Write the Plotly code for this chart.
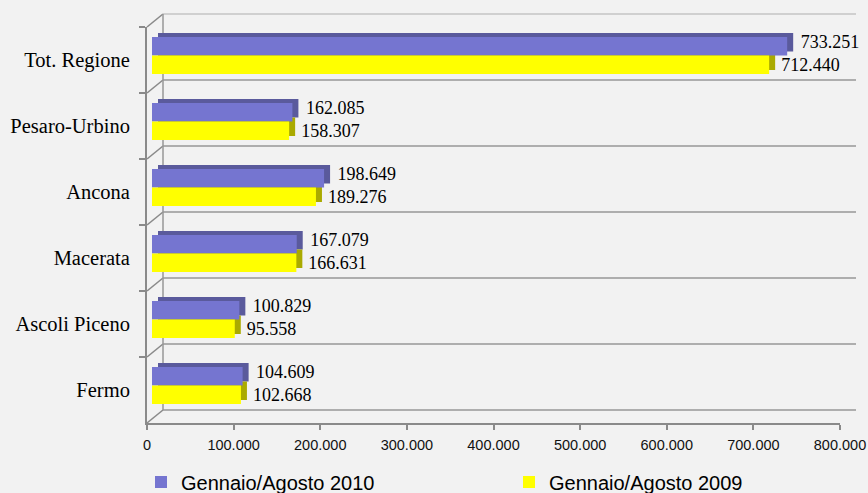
import plotly.graph_objects as go

# ---- data ----
categories = ["Tot. Regione", "Pesaro-Urbino", "Ancona", "Macerata", "Ascoli Piceno", "Fermo"]
values_2010 = [733251, 162085, 198649, 167079, 100829, 104609]
values_2009 = [712440, 158307, 189276, 166631, 95558, 102668]
series_names = ["Gennaio/Agosto 2010", "Gennaio/Agosto 2009"]
x_tickvals = [0, 100000, 200000, 300000, 400000, 500000, 600000, 700000, 800000]

# ---- geometry (pixels) ----
W, H = 868, 493
L, R, T, B = 147, 12, 14, 70
PW = W - L - R
PH = H - T - B
AX_W, AX_H = 693, 396
DEPTH_X, DEPTH_Y = 16, 13   # offset of back wall


def dom_x(dx):
    return [dx / PW, (dx + AX_W) / PW]


def dom_y(dy):
    return [dy / PH, (dy + AX_H) / PH]


PURPLE = "#7575d0"
PURPLE_DARK = "#5a5a9c"
YELLOW = "#ffff00"
YELLOW_DARK = "#aaaa00"
BG = "#f2f2f2"
AXIS_GRAY = "#8a8a8a"
WALL_GRAY = "#979797"

band = AX_H / len(categories)
bar_w = 18.5 / band
off_2010 = -23 / band
off_2009 = -4.5 / band

fig = go.Figure()

# front axes helper (invisible trace to build the category axis)
fig.add_trace(go.Bar(x=values_2010, y=categories, orientation="h", xaxis="x", yaxis="y",
                     marker_color="rgba(0,0,0,0)", showlegend=False, hoverinfo="skip"))

# 3D depth (shadow) bars
fig.add_trace(go.Bar(x=values_2010, y=categories, orientation="h", xaxis="x2", yaxis="y2",
                     marker=dict(color=PURPLE_DARK, line=dict(width=0)),
                     offset=off_2010, width=bar_w,
                     texttemplate=" %{x:,d}", textposition="outside", cliponaxis=False,
                     constraintext="none",
                     textfont=dict(family="Liberation Serif", size=18, color="black"),
                     showlegend=False, hoverinfo="skip"))
fig.add_trace(go.Bar(x=values_2009, y=categories, orientation="h", xaxis="x2", yaxis="y2",
                     marker=dict(color=YELLOW_DARK, line=dict(width=0)),
                     offset=off_2009, width=bar_w,
                     showlegend=False, hoverinfo="skip"))

# front bars
fig.add_trace(go.Bar(x=values_2010, y=categories, orientation="h", xaxis="x3", yaxis="y3",
                     name=series_names[0],
                     marker=dict(color=PURPLE, line=dict(width=0)),
                     offset=off_2010, width=bar_w))
fig.add_trace(go.Bar(x=values_2009, y=categories, orientation="h", xaxis="x3", yaxis="y3",
                     name=series_names[1],
                     marker=dict(color=YELLOW, line=dict(width=0)),
                     offset=off_2009, width=bar_w,
                     texttemplate="  %{x:,d}", textposition="outside", cliponaxis=False,
                     constraintext="none",
                     textfont=dict(family="Liberation Serif", size=18, color="black")))

cat_axis = dict(type="category", categoryorder="array", categoryarray=categories,
                range=[len(categories) - 0.5, -0.5], automargin=False, fixedrange=True)
num_axis = dict(range=[0, 800000], automargin=False, zeroline=False, showgrid=False,
                fixedrange=True)

# frame: back wall lines and diagonal connectors (layout decoration)
shapes = []
bx0 = DEPTH_X / PW
for k in range(len(categories) + 1):
    yf = k * band / PH
    yb = yf + DEPTH_Y / PH
    shapes.append(dict(type="line", xref="paper", yref="paper", layer="below",
                       x0=0, y0=yf, x1=bx0, y1=yb,
                       line=dict(color=AXIS_GRAY, width=1.6)))
    shapes.append(dict(type="line", xref="paper", yref="paper", layer="below",
                       x0=bx0, y0=yb, x1=1, y1=yb,
                       line=dict(color="#c4c4c4" if k == len(categories) else WALL_GRAY,
                                 width=1.5)))
shapes.append(dict(type="line", xref="paper", yref="paper", layer="below",
                   x0=bx0, y0=DEPTH_Y / PH, x1=bx0, y1=1,
                   line=dict(color=WALL_GRAY, width=1.5)))

fig.update_layout(
    width=W, height=H,
    margin=dict(l=L, r=R, t=T, b=B, pad=0, autoexpand=False),
    paper_bgcolor=BG, plot_bgcolor="rgba(0,0,0,0)",
    template="none",
    barmode="overlay",
    separators=",.",
    showlegend=True,
    shapes=shapes,
    legend=dict(orientation="h", x=(141 - L) / PW, xanchor="left",
                y=-(482 - (H - B)) / PH, yanchor="middle",
                entrywidth=323, bgcolor="rgba(0,0,0,0)",
                font=dict(family="Liberation Sans", size=20, color="black"),
                traceorder="normal"),
    # front axes
    xaxis=dict(**num_axis, domain=dom_x(0), anchor="y", showline=True,
               linecolor=AXIS_GRAY, linewidth=2, ticks="outside", ticklen=5,
               tickcolor=AXIS_GRAY, tickwidth=2, tickvals=x_tickvals, tickformat=",d",
               ticklabelstandoff=3,
               tickfont=dict(family="Liberation Sans", size=14.5, color="#111111")),
    yaxis=dict(**cat_axis, domain=dom_y(0), anchor="x", showline=True,
               linecolor=AXIS_GRAY, linewidth=2, ticks="outside", ticklen=6,
               tickcolor=AXIS_GRAY, tickwidth=2, tickson="boundaries",
               showgrid=False, zeroline=False, ticklabelstandoff=11,
               tickfont=dict(family="Liberation Serif", size=20.5, color="black")),
    # shadow bars
    xaxis2=dict(**num_axis, domain=dom_x(11), anchor="y2", visible=False),
    yaxis2=dict(**cat_axis, domain=dom_y(4), anchor="x2", visible=False),
    # front bars
    xaxis3=dict(**num_axis, domain=dom_x(5), anchor="y3", visible=False),
    yaxis3=dict(**cat_axis, domain=dom_y(0), anchor="x3", visible=False),
)

fig.write_html("out.html",
               config={"displayModeBar": False},
               post_script="document.body.style.margin='0';document.body.style.padding='0';")
